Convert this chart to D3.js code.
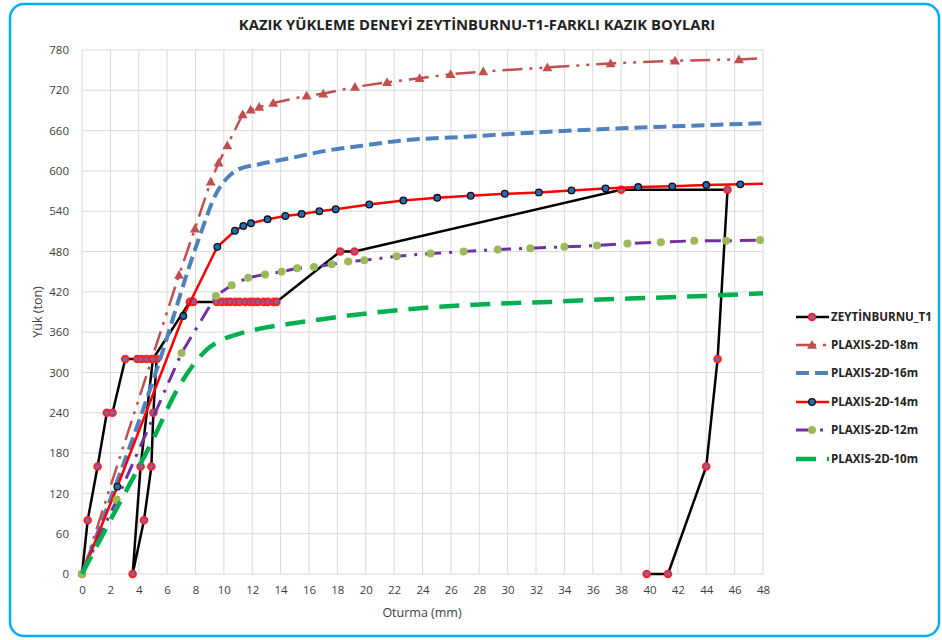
<!DOCTYPE html>
<html>
<head>
<meta charset="utf-8">
<script src="https://cdn.jsdelivr.net/npm/d3@7"></script>
<style>
  body { margin: 0; background: #fff; }
  text { font-family: "Open Sans", "Noto Sans", sans-serif; }
</style>
</head>
<body>
<div id="chart"></div>
<script>
// Ticks
const xTicks = d3.range(0, 49, 2);
const yTicks = d3.range(0, 781, 60);

// ZEYTINBURNU_T1 (field test)
const t1X = [0, 0.4, 1.1, 1.75, 2.15, 3.05, 3.9, 4.2, 4.55, 4.9, 5.26, 5.03, 4.89, 4.37, 3.57, 4.13, 5.0,
  7.6, 7.85, 9.5, 9.85, 10.2, 10.45, 10.8, 11.1, 11.5, 11.85, 12.1, 12.4, 12.8, 13.1, 13.5, 13.7,
  18.2, 19.2, 38.0, 45.5, 44.8, 44.0, 41.3, 39.8];
const t1Y = [0, 80, 160, 240, 240, 320, 320, 320, 320, 320, 320, 240, 160, 80, 0, 160, 320,
  405, 405, 405, 405, 405, 405, 405, 405, 405, 405, 405, 405, 405, 405, 405, 405,
  480, 480, 572, 572, 320, 160, 0, 0];

// PLAXIS-2D-18m
const p18X = [0, 6.84, 7.96, 9.07, 9.63, 10.24, 11.32, 11.89, 12.49, 13.48, 15.83, 17.0, 19.24, 21.5, 23.8, 25.98, 28.28, 32.8, 37.26, 41.8, 46.3, 48];
const p18Y = [0, 445, 514, 584, 612, 638, 684, 691, 695, 701, 712, 715, 725, 732, 738, 744, 748, 754, 760, 764, 766, 768];

// PLAXIS-2D-16m
const p16X = [0, 5.2, 8.2, 9.5, 10.4, 11.1, 12.5, 14.9, 17.2, 19.6, 22.4, 27.1, 31.8, 36.5, 41.2, 48];
const p16Y = [0, 300, 497, 568, 593, 603, 610, 620, 630, 637, 645, 651, 657, 662, 666, 671];

// PLAXIS-2D-14m
const p14X = [0, 2.49, 7.14, 9.54, 10.78, 11.37, 11.91, 13.08, 14.33, 15.48, 16.73, 17.88, 20.25, 22.65, 25.04, 27.4, 29.8, 32.2, 34.5, 36.9, 39.2, 41.6, 44.0, 46.4, 48];
const p14Y = [0, 130, 384, 487, 511, 518, 522, 528, 533, 536, 540, 543, 550, 556, 560, 563, 566, 568, 571, 574, 576, 577, 579, 580, 581];

// PLAXIS-2D-12m
const p12X = [0, 2.44, 7.02, 9.44, 10.55, 11.72, 12.9, 14.07, 15.17, 16.35, 17.6, 18.77, 19.9, 22.18, 24.57, 26.9, 29.3, 31.6, 34.0, 36.3, 38.45, 40.8, 43.15, 45.4, 47.8];
const p12Y = [0, 110, 329, 414, 430, 441, 446, 450, 455, 457, 461, 465, 467, 473, 477, 480, 483, 485, 487, 489, 492, 494, 496, 496, 497];

// PLAXIS-2D-10m
const p10X = [0, 2, 5, 6.7, 7.8, 8.8, 10, 11, 12.5, 14.5, 16.5, 18.5, 21, 24, 27, 30, 33, 36, 40, 44, 48];
const p10Y = [0, 80, 200, 274, 310, 334, 350, 357, 365, 372, 378, 384, 390, 396, 400, 403, 405, 408, 411, 414, 418];

const zip = (xs, ys) => xs.map((x, i) => ({ x, y: ys[i] }));

const W = 942, H = 640;
const svg = d3.select('#chart').append('svg')
  .attr('width', W)
  .attr('height', H);

// Outer rounded border
svg.append('rect')
  .attr('x', 10).attr('y', 4)
  .attr('width', 929).attr('height', 632)
  .attr('rx', 14)
  .attr('fill', '#fff')
  .attr('stroke', '#00b0f0')
  .attr('stroke-width', 2.5);

// Scales
const x = d3.scaleLinear().domain([0, 48]).range([82, 763]);
const y = d3.scaleLinear().domain([0, 780]).range([574, 50]);

// Grid
svg.append('g').selectAll('line.v')
  .data(xTicks).enter().append('line')
    .attr('x1', d => x(d)).attr('x2', d => x(d))
    .attr('y1', y(0)).attr('y2', y(780))
    .attr('stroke', '#d9d9d9').attr('stroke-width', 1);
svg.append('g').selectAll('line.h')
  .data(yTicks).enter().append('line')
    .attr('x1', x(0)).attr('x2', x(48))
    .attr('y1', d => y(d)).attr('y2', d => y(d))
    .attr('stroke', '#d9d9d9').attr('stroke-width', 1);

// Axes (labels only)
const xAxis = svg.append('g')
  .attr('transform', `translate(0, ${y(0)})`)
  .call(d3.axisBottom(x).tickValues(xTicks).tickSize(0).tickPadding(12));
xAxis.select('.domain').remove();
xAxis.selectAll('text').attr('font-size', 11.5).attr('fill', '#404040')
  .style('font-family', '"Open Sans", sans-serif');

const yAxis = svg.append('g')
  .attr('transform', `translate(${x(0)}, 0)`)
  .call(d3.axisLeft(y).tickValues(yTicks).tickSize(0).tickPadding(13));
yAxis.select('.domain').remove();
yAxis.selectAll('text').attr('font-size', 11.5).attr('fill', '#404040')
  .style('font-family', '"Open Sans", sans-serif');

// Title and axis titles
svg.append('text')
  .attr('x', 477).attr('y', 30)
  .attr('text-anchor', 'middle')
  .attr('font-size', 14.8).attr('font-weight', 'bold').attr('fill', '#222')
  .text('KAZIK YÜKLEME DENEYİ ZEYTİNBURNU-T1-FARKLI KAZIK BOYLARI');

svg.append('text')
  .attr('x', 422).attr('y', 617)
  .attr('text-anchor', 'middle')
  .attr('font-size', 12.5).attr('fill', '#404040')
  .text('Oturma (mm)');

svg.append('text')
  .attr('transform', 'rotate(-90)')
  .attr('x', -312).attr('y', 42)
  .attr('text-anchor', 'middle')
  .attr('font-size', 12.5).attr('fill', '#404040')
  .text('Yük (ton)');

const line = d3.line().x(d => x(d.x)).y(d => y(d.y));
const smooth = d3.line().x(d => x(d.x)).y(d => y(d.y)).curve(d3.curveMonotoneX);

const series = [
  { name: 'ZEYTİNBURNU_T1', data: zip(t1X, t1Y), gen: line, color: '#000', width: 2.5, dash: null, marker: 't1' },
  { name: 'PLAXIS-2D-18m', data: zip(p18X, p18Y), gen: line, color: '#c0504d', width: 2.5, dash: '20,7,3,7,3,7', marker: 'tri' },
  { name: 'PLAXIS-2D-16m', data: zip(p16X, p16Y), gen: smooth, color: '#4f81bd', width: 4, dash: '13,6', marker: null },
  { name: 'PLAXIS-2D-14m', data: zip(p14X, p14Y), gen: line, color: '#ff0000', width: 2.5, dash: null, marker: 'p14' },
  { name: 'PLAXIS-2D-12m', data: zip(p12X, p12Y), gen: line, color: '#7030a0', width: 3, dash: '16,8,3,8', marker: 'p12' },
  { name: 'PLAXIS-2D-10m', data: zip(p10X, p10Y), gen: smooth, color: '#00b050', width: 4.5, dash: '20,11', marker: null }
];

function drawMarker(g, kind, cx, cy) {
  if (kind === 't1') {
    g.append('circle').attr('cx', cx).attr('cy', cy).attr('r', 3.3)
      .attr('fill', '#7a64b4').attr('stroke', '#ff2020').attr('stroke-width', 2);
  } else if (kind === 'tri') {
    const s = 5;
    g.append('path')
      .attr('d', `M${cx},${cy - s}L${cx + s},${cy + s * 0.75}L${cx - s},${cy + s * 0.75}Z`)
      .attr('fill', '#c0504d');
  } else if (kind === 'p14') {
    g.append('circle').attr('cx', cx).attr('cy', cy).attr('r', 3.3)
      .attr('fill', '#1f6db5').attr('stroke', '#111').attr('stroke-width', 1.3);
  } else if (kind === 'p12') {
    g.append('circle').attr('cx', cx).attr('cy', cy).attr('r', 4)
      .attr('fill', '#9bbb59');
  }
}

series.forEach(s => {
  const g = svg.append('g');
  g.append('path')
    .datum(s.data)
    .attr('d', s.gen)
    .attr('fill', 'none')
    .attr('stroke', s.color)
    .attr('stroke-width', s.width)
    .attr('stroke-dasharray', s.dash)
    .attr('stroke-linejoin', 'round');
  if (s.marker) {
    // model curves have no marker at the origin or the line end
    const pts = (s.marker === 'tri' || s.marker === 'p14') ? s.data.slice(1, -1) : s.data;
    pts.forEach(d => drawMarker(g, s.marker, x(d.x), y(d.y)));
  }
});

// Legend
const legY = [317, 345, 373, 402, 430, 459];
const leg = svg.append('g');
series.forEach((s, i) => {
  const ly = legY[i];
  leg.append('line')
    .attr('x1', 796).attr('x2', 829)
    .attr('y1', ly).attr('y2', ly)
    .attr('stroke', s.color)
    .attr('stroke-width', s.width)
    .attr('stroke-dasharray', s.dash);
  if (s.marker) drawMarker(leg, s.marker, 812, ly);
  leg.append('text')
    .attr('x', 831).attr('y', ly + 4)
    .attr('font-size', 11.6).attr('font-weight', 'bold').attr('fill', '#222')
    .text(s.name);
});
</script>
</body>
</html>
